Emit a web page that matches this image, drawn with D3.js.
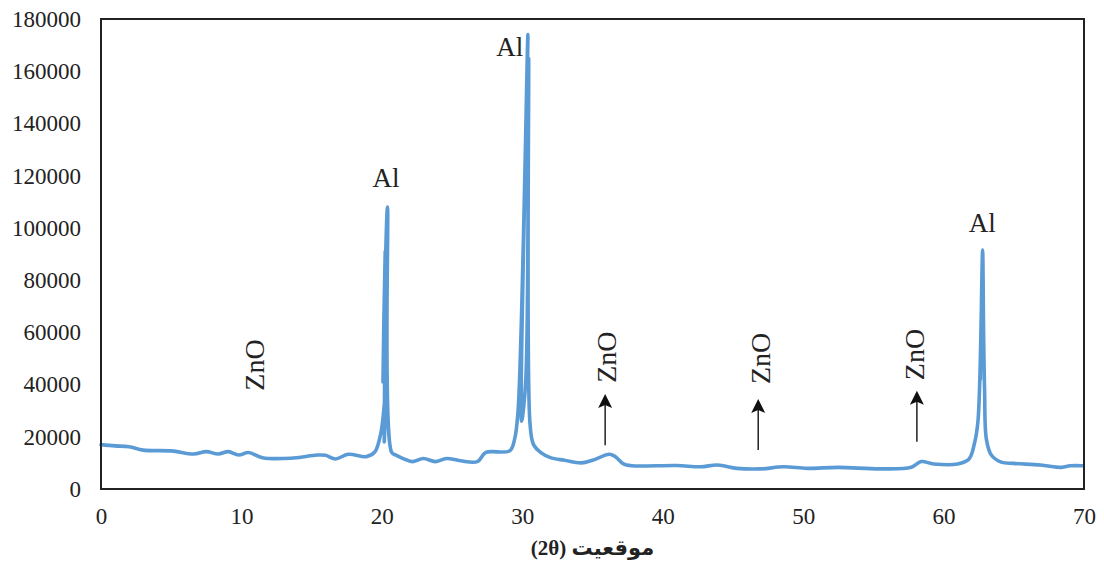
<!doctype html>
<html>
  <head>
    <meta charset="utf-8">
    <script src="https://d3js.org/d3.v7.min.js"></script>
    <style>
      body { margin: 0; background: #fff; }
      text { font-family: "Liberation Serif", "Times New Roman", serif; fill: #222; }
      .tick text { font-size: 23px; }
      .domain, .tick line { display: none; }
      path.trace { fill: none; stroke: #5B9BD5; stroke-width: 3.6; stroke-linejoin: round; stroke-linecap: round; }
      rect.frame { fill: none; stroke: #222; stroke-width: 2; }
      .al { font-size: 27px; }
      .zno { font-size: 28px; }
      .title { font-size: 21px; font-weight: bold; font-family: "Liberation Serif", "DejaVu Sans", sans-serif; }
    </style>
  </head>
  <body>
    <div id="chart"></div>
    <script>
      // XRD pattern
      var angle = [0, 1, 2, 3, 5, 6.6, 7.5, 8.35, 9.07, 9.8, 10.5, 11.5, 13.5, 15.4, 16.0, 16.7, 17.6, 18.9, 19.5,
        19.95, 20.22, 20.17, 20.24, 20.08, 20.4, 20.7, 21.0, 22.2, 22.95, 23.8, 24.6, 25.6, 26.8, 27.4, 29.1,
        29.45, 29.7, 30.4, 29.95, 30.25, 30.45, 30.55, 30.8, 31.3, 32, 33, 34.2, 35, 36.2, 36.6, 37.2, 37.8,
        41, 42.7, 43.9, 45.3, 47, 48.6, 50.3, 52.5, 55.5, 57.7, 58.4, 59.3, 61, 61.8, 62.2, 62.45, 62.7, 62.62,
        62.78, 62.85, 62.92, 63.05, 63.4, 64.1, 65, 66.9, 68.4, 69.0, 69.9];
      var intensity = [17000, 16500, 16200, 14900, 14600, 13400, 14300, 13400, 14300, 13000, 14000, 12000, 11800, 13000, 12900, 11500, 13300, 12400, 14200,
        22000, 34000, 18000, 91000, 41000, 108000, 14000, 13000, 10500, 11700, 10500, 11700, 10800, 10500, 14000, 14600,
        19000, 30000, 174000, 26000, 42000, 165000, 25000, 17000, 14000, 12000, 11000, 10000, 11000, 13300, 12500, 9600, 8900,
        9000, 8500, 9200, 7900, 7700, 8500, 7900, 8300, 7700, 8300, 10500, 9600, 9600, 11400, 17500, 26000, 70000, 42000,
        91500, 60000, 38000, 19000, 13000, 10300, 9800, 9200, 8300, 8900, 8900];

      var xTicks = [0, 10, 20, 30, 40, 50, 60, 70];
      var yTicks = [0, 20000, 40000, 60000, 80000, 100000, 120000, 140000, 160000, 180000];

      var alLabels = [{x: 20.3, y: 115500}, {x: 29.1, y: 166000}, {x: 62.75, y: 98500}];
      var znoLabels = [{x: 11.0, y: 47500}, {x: 36.0, y: 50500}, {x: 47.0, y: 50000}, {x: 58.0, y: 51500}];
      var arrows = [{x: 35.9, y0: 16800, y1: 36400}, {x: 46.8, y0: 14900, y1: 34500}, {x: 58.1, y0: 18100, y1: 37600}];

      var W = 1104, H = 564;
      var m = {left: 101, right: 20, top: 19, bottom: 75};

      var svg = d3.select("#chart").append("svg")
          .attr("width", W)
          .attr("height", H);

      var x = d3.scaleLinear().domain([0, 70]).range([m.left, W - m.right]);
      var y = d3.scaleLinear().domain([0, 180000]).range([H - m.bottom, m.top]);

      svg.append("g")
          .attr("transform", "translate(0," + (H - m.bottom) + ")")
          .call(d3.axisBottom(x).tickValues(xTicks).tickSize(0).tickPadding(19));

      svg.append("g")
          .attr("transform", "translate(" + m.left + ",0)")
          .call(d3.axisLeft(y).tickValues(yTicks).tickFormat(d3.format("d")).tickSize(0).tickPadding(20));

      var pts = angle.map(function(a, i) { return [a, intensity[i]]; });

      var line = d3.line()
          .x(d => x(d[0]))
          .y(d => y(d[1]))
          .curve(d3.curveCatmullRom.alpha(0.5));

      svg.append("path")
          .datum(pts)
          .attr("class", "trace")
          .attr("d", line);

      svg.append("rect")
          .attr("class", "frame")
          .attr("x", x(0))
          .attr("y", y(180000))
          .attr("width", x(70) - x(0))
          .attr("height", y(0) - y(180000));

      svg.selectAll("text.al")
        .data(alLabels)
        .enter()
        .append("text")
          .attr("class", "al")
          .attr("x", d => x(d.x))
          .attr("y", d => y(d.y))
          .attr("text-anchor", "middle")
          .text("Al");

      svg.selectAll("text.zno")
        .data(znoLabels)
        .enter()
        .append("text")
          .attr("class", "zno")
          .attr("transform", d => "translate(" + (x(d.x) + 9) + "," + y(d.y) + ") rotate(-90)")
          .attr("text-anchor", "middle")
          .text("ZnO");

      var ar = svg.selectAll("g.arrow")
        .data(arrows)
        .enter()
        .append("g")
          .attr("class", "arrow");

      ar.append("line")
          .attr("x1", d => x(d.x))
          .attr("x2", d => x(d.x))
          .attr("y1", d => y(d.y0))
          .attr("y2", d => y(d.y1) + 8)
          .attr("stroke", "#111")
          .attr("stroke-width", 1.4);

      ar.append("path")
          .attr("transform", d => "translate(" + x(d.x) + "," + y(d.y1) + ")")
          .attr("d", "M0,0 L7,14 L0,11 L-7,14 Z")
          .attr("fill", "#111");

      svg.append("text")
          .attr("class", "title")
          .attr("x", (x(0) + x(70)) / 2)
          .attr("y", 555)
          .attr("text-anchor", "middle")
          .attr("direction", "rtl")
          .text("موقعیت (2θ)");
    </script>
  </body>
</html>
